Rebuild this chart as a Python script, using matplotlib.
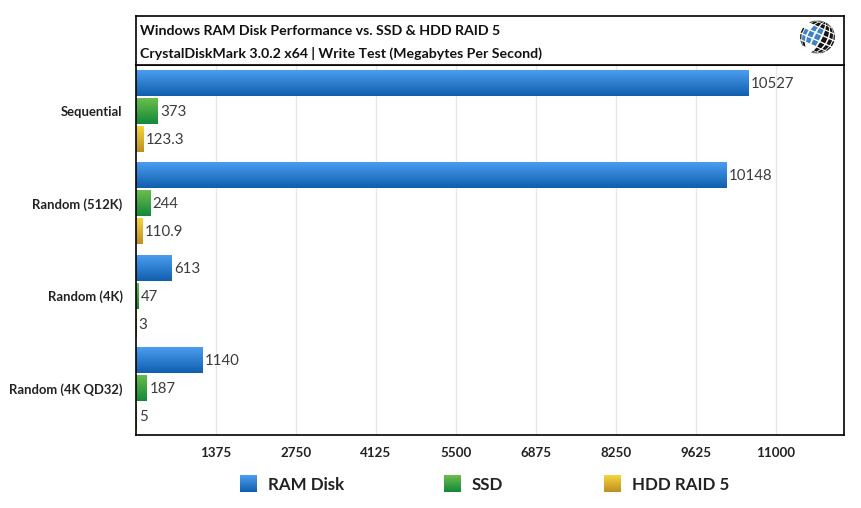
import numpy as np
import matplotlib
matplotlib.use("Agg")
import matplotlib.pyplot as plt
from matplotlib.colors import LinearSegmentedColormap
from matplotlib.patches import Polygon

categories = ["Sequential", "Random (512K)", "Random (4K)", "Random (4K QD32)"]
series_names = ["RAM Disk", "SSD", "HDD RAID 5"]
ram_disk = [10527, 10148, 613, 1140]
ssd = [373, 244, 47, 187]
hdd = [123.3, 110.9, 3, 5]
ram_labels = ["10527", "10148", "613", "1140"]
ssd_labels = ["373", "244", "47", "187"]
hdd_labels = ["123.3", "110.9", "3", "5"]
ticks = [1375, 2750, 4125, 5500, 6875, 8250, 9625, 11000]
title_1 = "Windows RAM Disk Performance vs. SSD & HDD RAID 5"
title_2 = "CrystalDiskMark 3.0.2 x64 | Write Test (Megabytes Per Second)"
gradients = [("#4c9df0", "#0f5fae"), ("#6cbd4c", "#12893a"), ("#f6d53c", "#bd8f22")]

W, H = 861, 508
plt.rcParams["font.family"] = ["Lato", "DejaVu Sans"]
fig = plt.figure(figsize=(W / 100, H / 100), dpi=100, facecolor="white")


def px_axes(x0, y0, x1, y1, **kw):
    return fig.add_axes([x0 / W, 1 - y1 / H, (x1 - x0) / W, (y1 - y0) / H], **kw)


ax = px_axes(135.7, 64.5, 843.5, 434.5)
ax.set_xticks(ticks)
ax.set_xticklabels([str(t) for t in ticks], fontsize=9.6, fontweight="bold", color="#222222")
ax.set_yticks(range(len(categories)))
ax.set_yticklabels(categories, fontsize=9.4, fontweight="bold", color="#222222")
ax.tick_params(axis="both", length=0)
ax.tick_params(axis="x", pad=9)
ax.tick_params(axis="y", pad=9.5)
ax.grid(axis="x", color="#e8e8e8", lw=1)
ax.set_axisbelow(True)
for s in ax.spines.values():
    s.set_linewidth(1.2)
    s.set_color("black")

h = 26 / 92.5
step = 28 / 92.5
y_base = np.arange(len(categories))
groups = [(ram_disk, ram_labels), (ssd, ssd_labels), (hdd, hdd_labels)]
for i, (vals, labs) in enumerate(groups):
    cmap = LinearSegmentedColormap.from_list(f"g{i}", gradients[i])
    grad = np.linspace(0, 1, 64).reshape(-1, 1)
    ys = y_base + (i - 1) * step
    bars = ax.barh(ys, vals, height=h, color="none", edgecolor="none", zorder=2)
    for bar, lab in zip(bars, labs):
        im = ax.imshow(grad, cmap=cmap, aspect="auto", zorder=2, interpolation="bilinear",
                       extent=(0, bar.get_width(), bar.get_y() + h, bar.get_y()))
        im.set_clip_path(bar)
        ax.annotate(lab, (bar.get_width(), bar.get_y() + h / 2), xytext=(2, -0.8),
                    textcoords="offset points", va="center", ha="left",
                    fontsize=10.8, color="#3c3c3c", zorder=3)
ax.set_xlim(0, 12165)
ax.set_ylim(3.5, -0.5)

# title panel
tp = px_axes(135.7, 16, 843.5, 64.5)
tp.set_xticks([]); tp.set_yticks([])
for s in tp.spines.values():
    s.set_linewidth(1.2)
tp.text(4.5 / 707.8, 0.70, title_1, transform=tp.transAxes, fontsize=10.15, fontweight="bold",
        va="center", color="#111111")
tp.text(4.5 / 707.8, 0.23, title_2, transform=tp.transAxes, fontsize=10.2, fontweight="bold",
        va="center", color="#111111")

# logo: tiled globe
lg = px_axes(799, 19.5, 836, 54.5)
lg.set_xlim(-1.05, 1.05); lg.set_ylim(-1.05, 1.05); lg.axis("off")
rot = np.deg2rad(-25)


def sphere(lon, lat):
    x, y = np.cos(lat) * np.sin(lon), np.sin(lat)
    return x * np.cos(rot) - y * np.sin(rot), x * np.sin(rot) + y * np.cos(rot)


d = 0.16
for lon in np.linspace(-1.3, 1.3, 7):
    for lat in np.linspace(-1.2, 1.2, 7):
        cx, cy = sphere(lon, lat)
        if (cx < -0.35 and cy > 0.45) or (cx < -0.3 and cy < -0.45):
            continue
        blue = -1.0 < lon < 0.1 and -0.5 < lat < 0.45
        corners = [sphere(lon + a * d, lat + b * d) for a, b in [(-1, -1), (1, -1), (1, 1), (-1, 1)]]
        lg.add_patch(Polygon(corners, closed=True, lw=0, color="#3f82c6" if blue else "#141414"))

# legend
grad = np.linspace(0, 1, 32).reshape(-1, 1)
for i, (name, sx) in enumerate(zip(series_names, [240, 444, 604])):
    cmap = LinearSegmentedColormap.from_list(f"l{i}", gradients[i])
    sw = px_axes(sx, 475, sx + 17, 492)
    sw.imshow(grad, cmap=cmap, aspect="auto")
    sw.axis("off")
    fig.text((sx + 28) / W, 1 - 484.5 / H, name, fontsize=12.2, fontweight="bold",
             va="center", ha="left", color="#222222")

fig.savefig("out.png", dpi=100)
